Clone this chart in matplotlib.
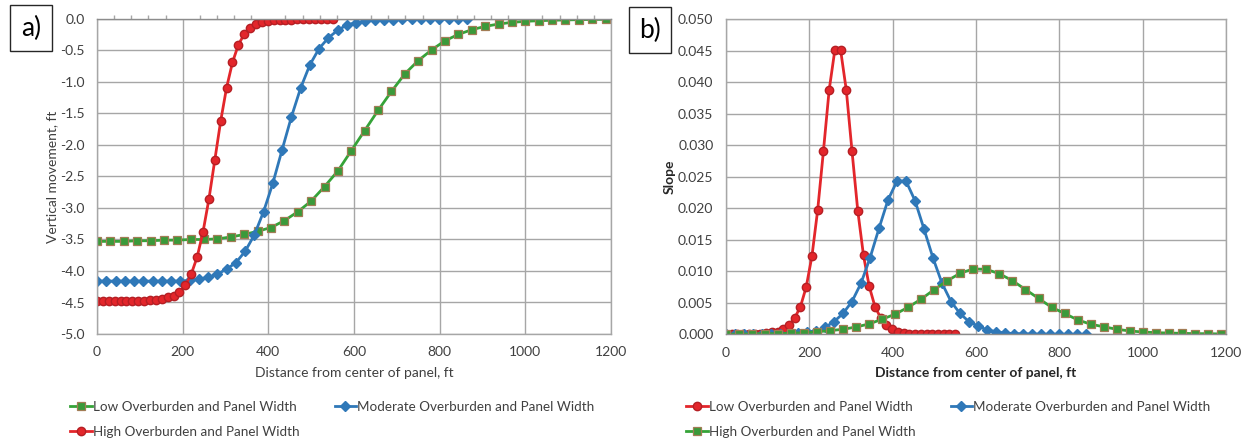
import matplotlib.pyplot as plt
import numpy as np
from matplotlib.ticker import MultipleLocator, FormatStrFormatter
from matplotlib.lines import Line2D

plt.rcParams['font.family'] = ['Lato', 'DejaVu Sans']

# distance stations (ft)
x_red = np.linspace(0, 550, 41)
x_blue = np.linspace(0, 864, 41)
x_green = np.linspace(0, 1187.5, 39)

# a) vertical movement, ft
move_low = [-3.53, -3.53, -3.53, -3.52, -3.52, -3.51, -3.51, -3.50, -3.50, -3.49,
            -3.46, -3.42, -3.37, -3.31, -3.20, -3.06, -2.89, -2.66, -2.41, -2.09,
            -1.77, -1.45, -1.15, -0.87, -0.66, -0.49, -0.345, -0.244, -0.17, -0.117,
            -0.08, -0.053, -0.037, -0.027, -0.02, -0.015, -0.01, -0.007, -0.005]
move_mod = [-4.16, -4.16, -4.16, -4.16, -4.16, -4.16, -4.16, -4.16, -4.16, -4.16,
            -4.15, -4.13, -4.10, -4.05, -3.97, -3.87, -3.69, -3.43, -3.06, -2.61,
            -2.08, -1.56, -1.10, -0.73, -0.47, -0.30, -0.18, -0.095, -0.058, -0.037,
            -0.021, -0.014, -0.010, -0.007, -0.005, -0.004, -0.003, -0.002, -0.002, -0.001,
            -0.001]
move_high = [-4.47, -4.47, -4.47, -4.47, -4.47, -4.47, -4.47, -4.47, -4.47, -4.46,
             -4.46, -4.45, -4.42, -4.39, -4.33, -4.23, -4.05, -3.78, -3.38, -2.86,
             -2.24, -1.62, -1.09, -0.69, -0.41, -0.24, -0.14, -0.085, -0.053, -0.032,
             -0.021, -0.015, -0.011, -0.008, -0.006, -0.004, -0.003, -0.002, -0.002, -0.001,
             -0.001]

# b) slope
slope_low = [0.0, 0.00001, 0.00002, 0.00003, 0.00005, 0.00008, 0.00012, 0.0002, 0.0003, 0.0004,
             0.0008, 0.0015, 0.0026, 0.0044, 0.0075, 0.0124, 0.0197, 0.0290, 0.0387, 0.0451,
             0.0451, 0.0387, 0.0290, 0.0196, 0.0125, 0.0076, 0.0044, 0.0026, 0.0015, 0.0008,
             0.0004, 0.0002, 0.0001, 0.00006, 0.00004, 0.00003, 0.00002, 0.00001, 0.00001, 0.0,
             0.0]
slope_mod = [0.0, 0.0, 0.00001, 0.00002, 0.00003, 0.00005, 0.00008, 0.00012, 0.0002, 0.0003,
             0.0006, 0.0011, 0.0020, 0.0033, 0.0052, 0.0081, 0.0121, 0.0168, 0.0213, 0.0243,
             0.0243, 0.0212, 0.0167, 0.0121, 0.0081, 0.0052, 0.0033, 0.0020, 0.0013, 0.0007,
             0.0004, 0.0002, 0.00012, 0.00008, 0.00005, 0.00003, 0.00002, 0.00001, 0.00001, 0.0,
             0.0]
slope_high = [0.0, 0.00003, 0.00005, 0.0001, 0.0001, 0.00016, 0.00026, 0.0004, 0.00058, 0.0008,
              0.00116, 0.00165, 0.0024, 0.0032, 0.0043, 0.0056, 0.0071, 0.0085, 0.0097, 0.01037,
              0.0103, 0.0096, 0.0085, 0.0071, 0.0057, 0.0043, 0.0033, 0.0023, 0.0016, 0.0012,
              0.0008, 0.00053, 0.00037, 0.00026, 0.0002, 0.00016, 0.0001, 0.0001, 0.00005]

lab_low = "Low Overburden and Panel Width"
lab_mod = "Moderate Overburden and Panel Width"
lab_high = "High Overburden and Panel Width"

red = '#e3262b'
blue = '#2f78b8'
green = '#35a338'
gridc = '#a6a6a6'
txt = '#404040'

sty_red = dict(color=red, lw=2, marker='o', ms=6, mfc=red, mec='#b51f24')
sty_blue = dict(color=blue, lw=2, marker='D', ms=4.8, mfc=blue, mec=blue)
sty_green = dict(color=green, lw=2, marker='s', ms=6, mfc='#3a9a3a', mec='#a27c55', mew=0.9)

fig = plt.figure(figsize=(12.47, 4.40), dpi=100)
ax1 = fig.add_axes([97/1247, 1-334/440, 514/1247, 315/440])
ax2 = fig.add_axes([726/1247, 1-334.3/440, 500/1247, 315.3/440])

ax1.plot(x_green, move_low, **sty_green)
ax1.plot(x_blue, move_mod, **sty_blue)
ax1.plot(x_red, move_high, **sty_red)

ax2.plot(x_red, slope_low, **sty_red)
ax2.plot(x_blue, slope_mod, **sty_blue)
ax2.plot(x_green, slope_high, **sty_green)

for ax in (ax1, ax2):
    ax.set_xlim(0, 1200)
    ax.xaxis.set_major_locator(MultipleLocator(200))
    ax.grid(True, color=gridc, lw=1)
    ax.set_axisbelow(True)
    for s in ax.spines.values():
        s.set_color(gridc)
        s.set_linewidth(1)
    ax.tick_params(labelsize=10, colors=txt, length=0, pad=9)

ax1.set_ylim(-5.0, 0.0)
ax1.yaxis.set_major_locator(MultipleLocator(0.5))
ax1.yaxis.set_major_formatter(FormatStrFormatter('%.1f'))
ax1.xaxis.set_minor_locator(MultipleLocator(40))
ax1.tick_params(axis='x', which='both', bottom=False, top=True, labelbottom=True,
                labeltop=False, direction='out', color=gridc)
ax1.tick_params(axis='x', which='minor', length=3, width=1)
ax1.spines['top'].set_color('#8c8c8c')
ax1.set_xlabel("Distance from center of panel, ft", fontsize=10, color=txt, labelpad=6)
ax1.set_ylabel("Vertical movement, ft", fontsize=10, color=txt, labelpad=1)

ax2.set_ylim(0, 0.050)
ax2.yaxis.set_major_locator(MultipleLocator(0.005))
ax2.yaxis.set_major_formatter(FormatStrFormatter('%.3f'))
ax2.spines['bottom'].set_color('#8c8c8c')
ax2.set_xlabel("Distance from center of panel, ft", fontsize=10, color='#262626',
               fontweight='bold', labelpad=6)
ax2.set_ylabel("Slope", fontsize=10, color='#262626', fontweight='bold', labelpad=2)

def handle(sty):
    return Line2D([], [], **sty)

leg_kw = dict(ncol=2, frameon=False, loc='upper left', fontsize=9.7, handlelength=1.6,
              handletextpad=0.1, columnspacing=2.6, labelspacing=0.95, labelcolor=txt,
              borderaxespad=0, borderpad=0)
# order so rows read: first / second, then third
fig.legend([handle(sty_green), handle(sty_red), handle(sty_blue)],
           [lab_low, lab_high, lab_mod], bbox_to_anchor=(70/1247, 1-401/440), **leg_kw)
fig.legend([handle(sty_red), handle(sty_green), handle(sty_blue)],
           [lab_low, lab_high, lab_mod], bbox_to_anchor=(686/1247, 1-401/440), **leg_kw)

box = dict(boxstyle='square,pad=0.4', fc='white', ec='#262626', lw=1)
fig.text(31/1247, 1-28/440, "a)", fontsize=19, ha='center', va='center', bbox=box)
fig.text(650/1247, 1-30/440, "b)", fontsize=19, ha='center', va='center', bbox=box)

fig.savefig('out.png', dpi=100)
